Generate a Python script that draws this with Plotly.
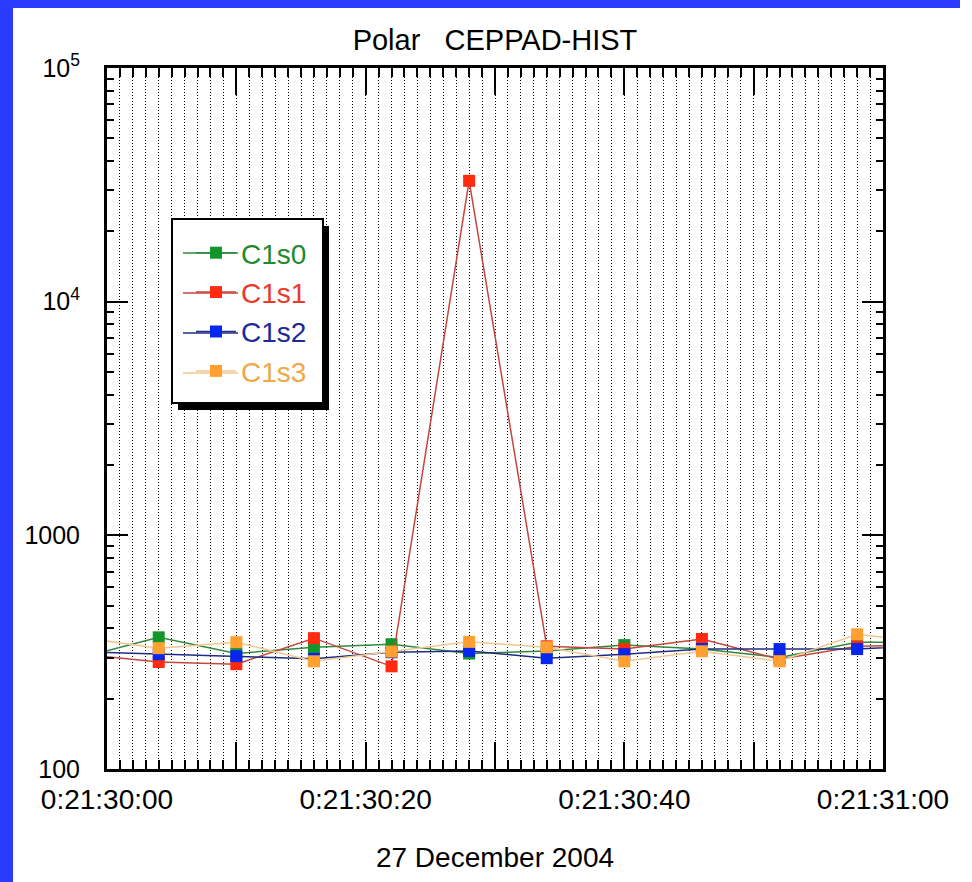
import plotly.graph_objects as go

# ---- data ----
seconds = [-2, 4, 10, 16, 22, 28, 34, 40, 46, 52, 58, 64]  # seconds after 0:21:30:00
series_names = ["C1s0", "C1s1", "C1s2", "C1s3"]
c1s0 = [300, 366, 312, 332, 342, 312, 320, 339, 326, 300, 349, 349]
c1s1 = [310, 287, 281, 363, 275, 32900, 335, 326, 360, 295, 335, 340]
c1s2 = [318, 310, 304, 296, 316, 320, 298, 310, 326, 326, 326, 340]
c1s3 = [365, 329, 349, 289, 318, 350, 332, 289, 319, 289, 377, 345]
x_tickvals = [0, 10, 20, 30, 40, 50, 60]
x_ticktext = ["0:21:30:00", "", "0:21:30:20", "", "0:21:30:40", "", "0:21:31:00"]
y_tickvals = [100, 1000, 10000, 100000]
y_ticktext = ["100", "1000", "10<sup>4</sup>", "10<sup>5</sup>"]
y_minor = [m * 10 ** e for e in (2, 3, 4) for m in range(2, 10)]

line_colors = ["#2f8a3c", "#c4463e", "#1f2c84", "#f0c890"]
marker_colors = ["#12962c", "#ff2a10", "#0626ee", "#ffa030"]
text_colors = ["#1f8a2e", "#e83a2a", "#1a2a9a", "#f0a848"]

W, H = 972, 882
L, R, T, B = 107, 883, 68, 769
FONT = "Liberation Sans, Arial, sans-serif"

def px(xp):
    return (xp - L) / (R - L)

def py(yp):
    return (B - yp) / (B - T)

fig = go.Figure()
for name, vals, lc, mc, tc in zip(series_names, [c1s0, c1s1, c1s2, c1s3],
                                  line_colors, marker_colors, text_colors):
    fig.add_trace(go.Scatter(
        x=seconds, y=vals, mode="lines+markers",
        name=f"<span style='color:{tc}'>{name}</span>",
        line=dict(color=lc, width=1.5),
        marker=dict(symbol="square", size=12, color=mc),
    ))

LEG_L, LEG_R, LEG_T, LEG_B = 172, 323, 219, 403
ROW0, ROWSTEP = 253, 40

shapes = [
    # blue frame strips
    dict(type="rect", xref="paper", yref="paper", x0=px(0), x1=px(13), y0=py(H), y1=py(0),
         fillcolor="#2a3cff", line=dict(width=0), layer="above"),
    dict(type="rect", xref="paper", yref="paper", x0=px(0), x1=px(960), y0=py(8), y1=py(0),
         fillcolor="#2a3cff", line=dict(width=0), layer="above"),
    # legend shadow + box
    dict(type="rect", xref="paper", yref="paper", x0=px(LEG_L + 6), x1=px(LEG_R + 6),
         y0=py(LEG_B + 7), y1=py(LEG_T + 7), fillcolor="black", line=dict(width=0), layer="above"),
    dict(type="rect", xref="paper", yref="paper", x0=px(LEG_L), x1=px(LEG_R),
         y0=py(LEG_B), y1=py(LEG_T), fillcolor="white", line=dict(color="black", width=2),
         layer="above"),
]
# longer legend sample lines (legend entries drawn on top)
for i, lc in enumerate(line_colors):
    yy = ROW0 + i * ROWSTEP
    shapes.append(dict(type="line", xref="paper", yref="paper", x0=px(183), x1=px(238),
                       y0=py(yy), y1=py(yy), line=dict(color=lc, width=1.5), layer="above"))

fig.update_layout(
    width=W, height=H,
    margin=dict(l=L, r=W - R, t=T, b=H - B),
    paper_bgcolor="white", plot_bgcolor="white",
    title=dict(text="Polar   CEPPAD-HIST", x=0.5, xref="paper", xanchor="center",
               y=1 - 40 / H, yref="container", yanchor="middle",
               font=dict(family=FONT, size=29, color="black")),
    showlegend=True,
    legend=dict(x=px(191), y=py(228), xanchor="left", yanchor="top",
                bgcolor="rgba(0,0,0,0)", borderwidth=0,
                font=dict(family=FONT, size=28, color="black"),
                itemwidth=40, tracegroupgap=0),
    shapes=shapes,
    xaxis=dict(
        range=[0, 60], showline=True, linecolor="black", linewidth=3, mirror="allticks",
        tickmode="array", tickvals=x_tickvals, ticktext=x_ticktext,
        ticks="inside", ticklen=27, tickwidth=2, tickcolor="black",
        showgrid=True, gridcolor="black", gridwidth=1, griddash="1px,2px",
        zeroline=False,
        tickfont=dict(family=FONT, size=28, color="black"),
        ticklabelstandoff=3,
        title=dict(text="27 December 2004", font=dict(family=FONT, size=28, color="black"),
                   standoff=34),
        minor=dict(tickmode="linear", tick0=0, dtick=1, ticks="inside", ticklen=9,
                   tickwidth=2, tickcolor="black", showgrid=True, gridcolor="black",
                   gridwidth=1, griddash="1px,2px"),
    ),
    yaxis=dict(
        type="log", range=[2, 5], showline=True, linecolor="black", linewidth=3,
        mirror="allticks", tickmode="array", tickvals=y_tickvals, ticktext=y_ticktext,
        ticks="inside", ticklen=21, tickwidth=2, tickcolor="black",
        showgrid=False, zeroline=False,
        tickfont=dict(family=FONT, size=25, color="black"),
        ticklabelstandoff=19,
        minor=dict(tickmode="array", tickvals=y_minor, ticks="inside", ticklen=7,
                   tickwidth=2, tickcolor="black", showgrid=False),
    ),
)

fig.write_html("out.html")
